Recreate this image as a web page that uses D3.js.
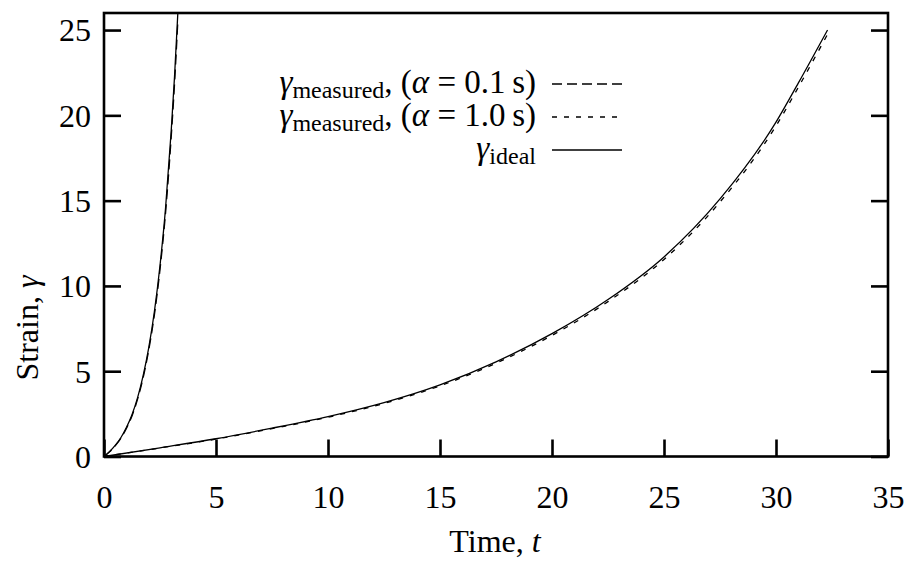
<!DOCTYPE html>
<html>
<head>
<meta charset="utf-8">
<script src="https://cdn.jsdelivr.net/npm/d3@7"></script>
<style>
  body { margin: 0; background: #fff; }
  svg text { font-family: "Liberation Serif", "DejaVu Serif", serif; fill: #000; }
</style>
</head>
<body>
<svg id="chart" width="904" height="561"></svg>
<script>
// fast run (left pair) and slow run (right pair)
var tFast = [0, 0.25, 0.5, 0.75, 1.0, 1.25, 1.5, 1.75, 2.0, 2.25, 2.5, 2.75, 3.0, 3.15, 3.3]
var idealFast = [0, 0.29, 0.65, 1.1, 1.7, 2.45, 3.45, 4.75, 6.4, 8.5, 11.2, 14.6, 19.1, 22.3, 26.1]
var measFast = [0, 0.27, 0.62, 1.06, 1.65, 2.38, 3.36, 4.63, 6.25, 8.3, 10.95, 14.3, 18.7, 21.85, 25.6]

var tSlow = [0, 2.5, 5, 7.5, 10, 12.5, 15, 17.5, 20, 22.5, 25, 27.5, 30, 31, 32.3]
var idealSlow = [0, 0.51, 1.04, 1.66, 2.34, 3.16, 4.2, 5.55, 7.2, 9.2, 11.7, 15.1, 19.6, 21.9, 25.0]
var measSlow = [0, 0.5, 1.02, 1.63, 2.3, 3.11, 4.14, 5.47, 7.1, 9.08, 11.55, 14.92, 19.38, 21.65, 24.75]

var xTicks = [0, 5, 10, 15, 20, 25, 30, 35]
var yTicks = [0, 5, 10, 15, 20, 25]

var legendItems = [
  {sub: "measured", alpha: true, tail: " = 0.1\u2009s)", dash: "10,5"},
  {sub: "measured", alpha: true, tail: " = 1.0\u2009s)", dash: "5,7"},
  {sub: "ideal", alpha: false, tail: "", dash: null}
]

var svg = d3.select("#chart")
var plotL = 104, plotR = 888, plotT = 13, plotB = 456.5

var x = d3.scaleLinear().domain([0, 35]).range([plotL, plotR])
var y = d3.scaleLinear().domain([0, 26]).range([plotB, plotT])

svg.append("clipPath").attr("id", "plotclip")
  .append("rect")
  .attr("x", plotL).attr("y", plotT)
  .attr("width", plotR - plotL).attr("height", plotB - plotT)

function pairs(ts, vs) {
  return ts.map(function(t, i) { return [t, vs[i]] })
}

var line = d3.line()
  .x(function(d) { return x(d[0]) })
  .y(function(d) { return y(d[1]) })
  .curve(d3.curveMonotoneX)

var curves = svg.append("g").attr("clip-path", "url(#plotclip)")

var series = [
  {data: pairs(tFast, measFast), dash: "10,5"},
  {data: pairs(tSlow, measSlow), dash: "5,7"},
  {data: pairs(tFast, idealFast), dash: null},
  {data: pairs(tSlow, idealSlow), dash: null}
]

series.forEach(function(s) {
  curves.append("path")
    .datum(s.data)
    .attr("d", line)
    .attr("fill", "none")
    .attr("stroke", "#000")
    .attr("stroke-width", 1.3)
    .attr("stroke-dasharray", s.dash)
})

// axes: ticks point inward, labels outside
var tickLen = 17

var xAxis = d3.axisBottom(x).tickValues(xTicks).tickSize(-tickLen).tickPadding(tickLen + 12)
var gx = svg.append("g").attr("transform", "translate(0," + plotB + ")").call(xAxis)

var yAxis = d3.axisLeft(y).tickValues(yTicks).tickSize(-tickLen).tickPadding(13)
var gy = svg.append("g").attr("transform", "translate(" + plotL + ",0)").call(yAxis)

var yAxisR = d3.axisRight(y).tickValues(yTicks).tickSize(-tickLen).tickFormat("")
var gyr = svg.append("g").attr("transform", "translate(" + plotR + ",0)").call(yAxisR)

;[gx, gy, gyr].forEach(function(g) {
  g.select(".domain").remove()
  g.selectAll(".tick line").attr("stroke", "#000").attr("stroke-width", 2.6)
  g.selectAll(".tick text")
    .style("font-family", "'Liberation Serif', 'DejaVu Serif', serif")
    .style("font-size", "32px")
    .attr("fill", "#000")
})
gx.selectAll(".tick text").attr("dy", "0.71em")
gy.selectAll(".tick text").attr("dy", "0.34em")

svg.append("rect")
  .attr("x", plotL).attr("y", plotT)
  .attr("width", plotR - plotL).attr("height", plotB - plotT)
  .attr("fill", "none")
  .attr("stroke", "#000")
  .attr("stroke-width", 2.6)

// axis titles
var xt = svg.append("text")
  .attr("x", 495).attr("y", 552)
  .attr("text-anchor", "middle")
  .style("font-size", "32px")
xt.append("tspan").text("Time, ")
xt.append("tspan").attr("font-style", "italic").text("t")

var yt = svg.append("text")
  .attr("transform", "translate(38,328) rotate(-90)")
  .attr("text-anchor", "middle")
  .style("font-size", "32px")
yt.append("tspan").text("Strain, ")
yt.append("tspan").attr("font-style", "italic").text("\u03b3")

// legend
var legend = svg.append("g")
legendItems.forEach(function(item, i) {
  var by = 93 + i * 33
  var t = legend.append("text")
    .attr("x", 536).attr("y", by)
    .attr("text-anchor", "end")
    .style("font-size", "33px")
  t.append("tspan").attr("font-style", "italic").text("\u03b3")
  t.append("tspan").attr("dy", 5).style("font-size", "24px").text(item.sub)
  if (item.alpha) {
    t.append("tspan").attr("dy", -5).text(", (")
    t.append("tspan").attr("font-style", "italic").text("\u03b1")
    t.append("tspan").text(item.tail)
  }
  legend.append("line")
    .attr("x1", 552).attr("x2", 622)
    .attr("y1", by - 9).attr("y2", by - 9)
    .attr("stroke", "#000")
    .attr("stroke-width", 1.3)
    .attr("stroke-dasharray", item.dash)
})
</script>
</body>
</html>
